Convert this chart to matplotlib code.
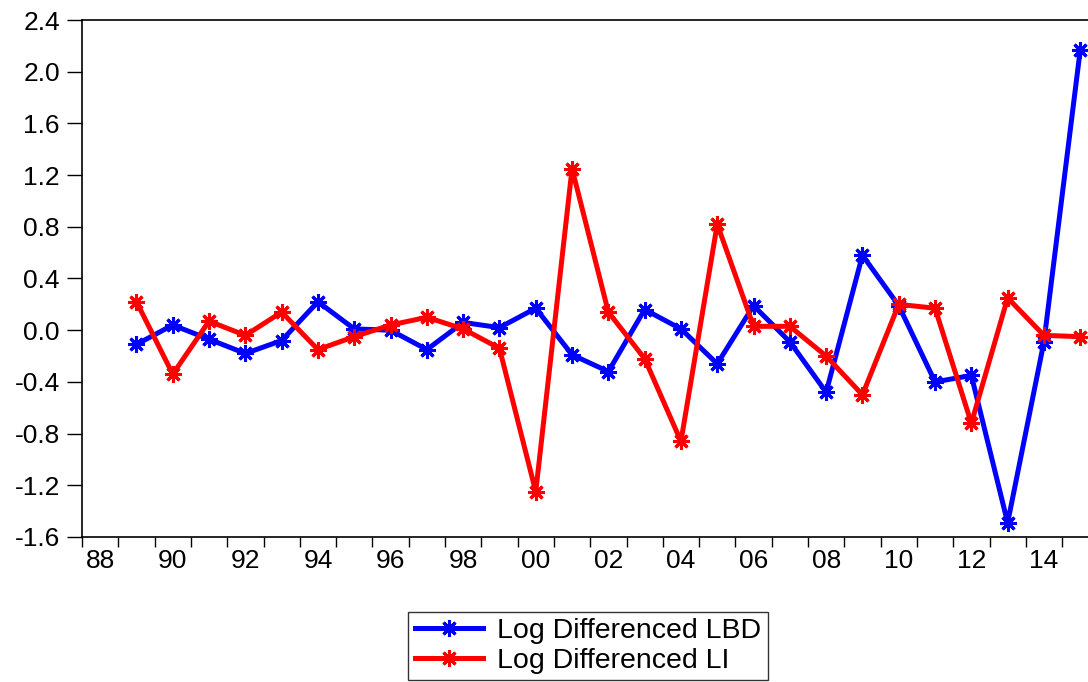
import numpy as np
import matplotlib.pyplot as plt

plt.rcParams['font.family'] = ['Liberation Sans', 'DejaVu Sans']

years = list(range(1989, 2016))
lbd = [-0.11, 0.04, -0.07, -0.18, -0.08, 0.22, 0.01, 0.00, -0.15, 0.06,
       0.02, 0.17, -0.19, -0.32, 0.16, 0.01, -0.26, 0.19, -0.09, -0.48,
       0.58, 0.19, -0.40, -0.35, -1.49, -0.09, 2.17]
li = [0.22, -0.34, 0.07, -0.04, 0.14, -0.15, -0.05, 0.04, 0.10, 0.01,
      -0.14, -1.25, 1.25, 0.14, -0.22, -0.86, 0.82, 0.03, 0.03, -0.20,
      -0.50, 0.20, 0.17, -0.72, 0.25, -0.04, -0.05]
yticks = [-1.6, -1.2, -0.8, -0.4, 0.0, 0.4, 0.8, 1.2, 1.6, 2.0, 2.4]

fig = plt.figure(figsize=(10.88, 6.82), dpi=100)
ax = fig.add_axes([82/1088, 1-537/682, 1-82/1088, (537-20)/682])

# points sit in the middle of each year, ticks on year boundaries
x = np.array(years) + 0.5
mk = (8, 2, 0)
ax.plot(x, lbd, color='blue', linewidth=3.6, marker=mk, markersize=12,
        markeredgewidth=2.2, label='Log Differenced LBD')
ax.plot(x, li, color='red', linewidth=3.6, marker=mk, markersize=12,
        markeredgewidth=2.2, label='Log Differenced LI')

ax.set_xlim(1988, 1988 + (1088-82)/36.3)
ax.set_ylim(-1.6, 2.4)
ax.set_yticks(yticks)
ax.set_yticklabels(['%.1f' % v for v in yticks])
ax.set_xticks(range(1988, 2016))
ax.set_xticklabels([])
ax.set_xticks([yr + 0.5 for yr in range(1988, 2016, 2)], minor=True)
ax.set_xticklabels(['%02d' % (yr % 100) for yr in range(1988, 2016, 2)], minor=True)
ax.tick_params(axis='x', which='major', direction='out', length=7, width=1)
ax.tick_params(axis='x', which='minor', length=0, pad=9, labelsize=19)
ax.tick_params(axis='y', direction='out', length=11, width=1, labelsize=19, pad=5)
ax.spines['right'].set_visible(False)
for s in ['left', 'top', 'bottom']:
    ax.spines[s].set_linewidth(1.2)

leg = ax.legend(loc='upper center', bbox_to_anchor=(588/1088, 1-612/682),
                bbox_transform=fig.transFigure, fontsize=20.5, frameon=True,
                fancybox=False, edgecolor='black', handlelength=2.4,
                handletextpad=0.5, borderpad=0.22, labelspacing=0.12,
                borderaxespad=0)
leg.get_frame().set_linewidth(1)

fig.savefig('out.png', dpi=100)
